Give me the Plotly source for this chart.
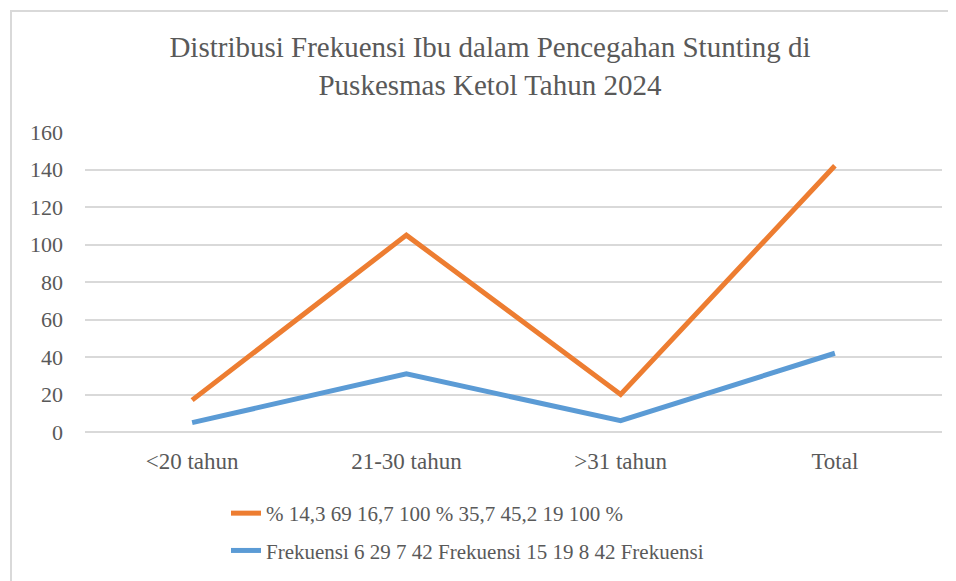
import plotly.graph_objects as go

categories = ["<20 tahun", "21-30 tahun", ">31 tahun", "Total"]
persen_values = [17, 105, 20, 142]
frekuensi_values = [5, 31, 6, 42]
series_names = ["% 14,3 69 16,7 100 % 35,7 45,2 19 100 %",
                "Frekuensi 6 29 7 42 Frekuensi 15 19 8 42 Frekuensi"]
y_ticks = [0, 20, 40, 60, 80, 100, 120, 140, 160]

W, H = 956, 581
OFF = 8  # page body offset
ML, MR, MT, MB = 85 - OFF, 14 + OFF, 132 - OFF, 149 + OFF
FONT = "Liberation Serif"
GRAY = "#595959"

fig = go.Figure()
fig.add_trace(go.Scatter(x=categories, y=persen_values, mode="lines", name=series_names[0],
                         line=dict(color="#ED7D31", width=5), legendgroup="a"))
fig.add_trace(go.Scatter(x=categories, y=frekuensi_values, mode="lines", name=series_names[1],
                         line=dict(color="#5B9BD5", width=5), legendgroup="b"))

pw = W - ML - MR
ph = H - MT - MB
def px_x(p):
    return (p - OFF - ML) / pw
def px_y(p):
    return (H - MB - (p - OFF)) / ph

fig.update_layout(
    width=W, height=H,
    margin=dict(l=ML, r=MR, t=MT, b=MB, autoexpand=False),
    paper_bgcolor="white", plot_bgcolor="white",
    font=dict(family=FONT, color=GRAY, size=20),
    title=dict(text="Distribusi Frekuensi Ibu dalam Pencegahan Stunting di<br>Puskesmas Ketol Tahun 2024",
               x=(490 - OFF) / W, xanchor="center", xref="container",
               y=1 - (57 - OFF) / H, yanchor="top", yref="container",
               font=dict(family=FONT, size=29, color=GRAY)),
    xaxis=dict(range=[-0.5, 3.5], showgrid=False, showline=False, zeroline=False, ticks="",
               automargin=False,
               ticklabelstandoff=13, tickfont=dict(size=23, color=GRAY, family=FONT)),
    yaxis=dict(range=[0, 160], tickvals=y_ticks, showgrid=True, gridcolor="#d9d9d9", gridwidth=1.5,
               zeroline=True, zerolinecolor="#d9d9d9", zerolinewidth=1.5, showline=False, ticks="",
               automargin=False,
               ticklabelstandoff=21, tickfont=dict(size=22, color=GRAY, family=FONT)),
    showlegend=True,
    legend=dict(orientation="v", x=px_x(226), xanchor="left", y=px_y(493), yanchor="top",
                font=dict(size=21, color=GRAY, family=FONT), tracegroupgap=7,
                bgcolor="rgba(0,0,0,0)", borderwidth=0),
    shapes=[dict(type="rect", xref="paper", yref="paper",
                 x0=px_x(11), x1=px_x(W + 20), y0=px_y(H + 20), y1=px_y(11),
                 line=dict(color="#d9d9d9", width=2), fillcolor="rgba(0,0,0,0)", layer="below")],
)

fig.write_html("out.html")
